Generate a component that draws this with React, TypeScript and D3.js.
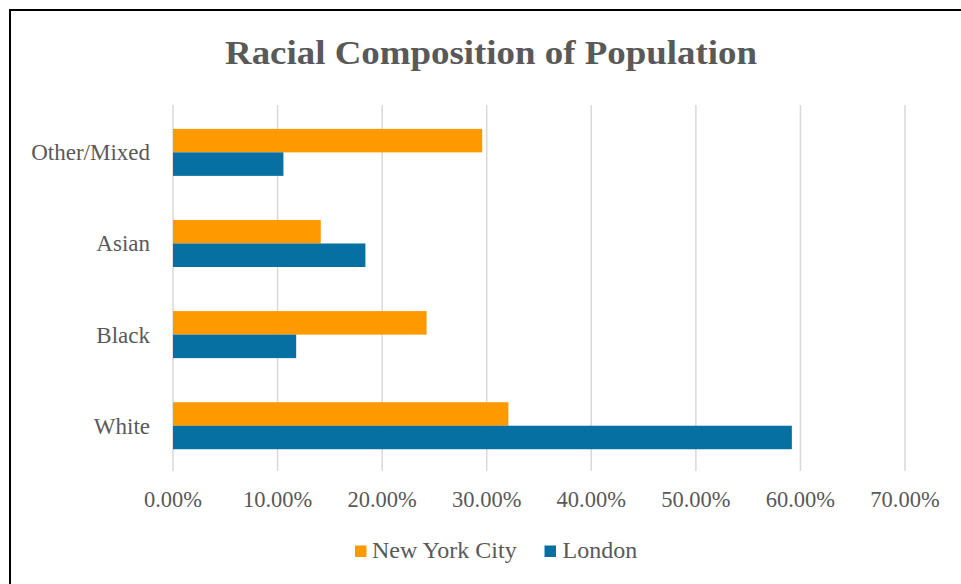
import React from "react";
import * as d3 from "d3";

const categories = ["Other/Mixed", "Asian", "Black", "White"];
const seriesNames = ["New York City", "London"];
const nycValues = [0.2957, 0.1413, 0.2425, 0.3207];
const londonValues = [0.1056, 0.184, 0.1178, 0.5918];
const tickValues = [0, 0.1, 0.2, 0.3, 0.4, 0.5, 0.6, 0.7];
const colors = ["#FF9900", "#0570A1"];

const W = 961;
const H = 584;
const FONT = "'Liberation Serif', 'Times New Roman', serif";
const TEXT = "#595959";

export default function App() {
  const x = d3.scaleLinear().domain([0, 0.7]).range([173, 905]);
  const y = d3.scaleBand().domain(categories).range([106.8, 471.3]).paddingInner(0).paddingOuter(0);
  const band = y.bandwidth();
  const barH = 23.5;
  const fmt = d3.format(".2%");
  const series = [nycValues, londonValues];

  return (
    <svg
      width={W}
      height={H}
      style={{ position: "fixed", left: 0, top: 0, background: "#fff" }}
      fontFamily={FONT}
    >
      <rect x={0} y={0} width={W} height={H} fill="#fff" />
      <path d={`M10,${H} V10 H${W}`} fill="none" stroke="#000" strokeWidth={2} />
      <text
        x={491}
        y={64}
        textAnchor="middle"
        fontSize={33}
        fontWeight="bold"
        fill={TEXT}
        textLength={532}
        lengthAdjust="spacingAndGlyphs"
      >
        Racial Composition of Population
      </text>
      {tickValues.map((t) => (
        <line
          key={"g" + t}
          x1={x(t)}
          x2={x(t)}
          y1={105}
          y2={471}
          stroke="#D9D9D9"
          strokeWidth={1.5}
        />
      ))}
      {categories.map((c, i) => {
        const cy = (y(c) as number) + band / 2;
        return (
          <g key={c}>
            {series.map((vals, s) => (
              <rect
                key={s}
                x={x(0)}
                y={cy - barH + s * barH}
                width={x(vals[i]) - x(0)}
                height={barH}
                fill={colors[s]}
              />
            ))}
            <text x={150} y={cy + 8} textAnchor="end" fontSize={23} fill={TEXT}>
              {c}
            </text>
          </g>
        );
      })}
      {tickValues.map((t) => (
        <text key={"t" + t} x={x(t)} y={507} textAnchor="middle" fontSize={22.5} fill={TEXT}>
          {fmt(t)}
        </text>
      ))}
      <g>
        <rect x={355} y={545.5} width={11.5} height={11.5} fill={colors[0]} />
        <text x={372} y={557.5} fontSize={24} fill={TEXT}>
          {seriesNames[0]}
        </text>
        <rect x={544.5} y={545.5} width={11.5} height={11.5} fill={colors[1]} />
        <text x={562.5} y={557.5} fontSize={24} fill={TEXT}>
          {seriesNames[1]}
        </text>
      </g>
    </svg>
  );
}
